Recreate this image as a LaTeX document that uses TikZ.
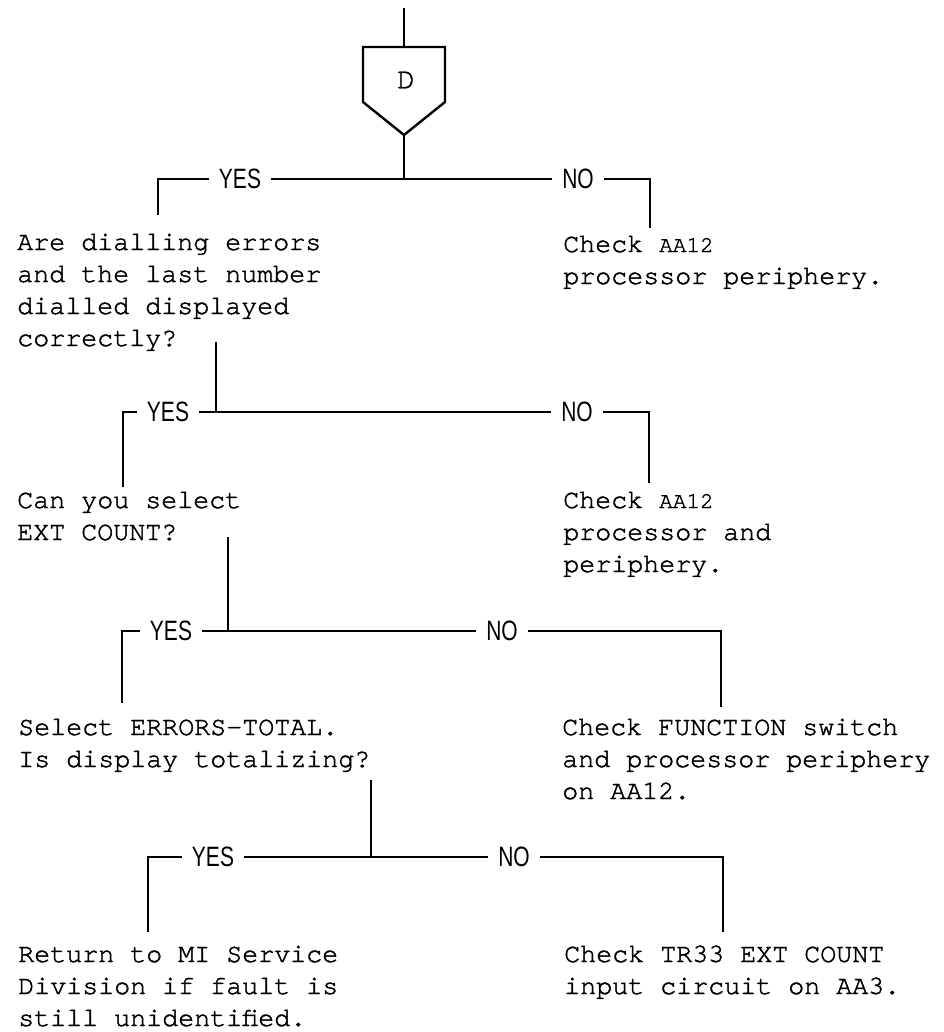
\documentclass[tikz,border=0pt]{standalone}
\usepackage{fontspec}
\newfontfamily\twfont{texgyrecursor-regular.otf}[FakeBold=1.6]
\newfontfamily\ynfont{Liberation Sans}
\newcommand\yn[1]{\scalebox{0.75}[1]{#1}}
\newcommand\sm[1]{{\fontsize{17}{24}\selectfont #1}}
\newcommand\blk[1]{\begin{tabular}[t]{@{}l@{}}#1\end{tabular}}
\tikzset{
  ln/.style={line width=1.8pt},
  lbl/.style={inner xsep=7.5pt, inner ysep=0pt, font=\ynfont\fontsize{21}{24}\selectfont},
  txt/.style={anchor=base west, inner sep=0pt, font=\twfont\fontsize{20}{24}\selectfont},
}
\begin{document}
\begin{tikzpicture}[x=0.75pt,y=-0.75pt]
\useasboundingbox (0,0) rectangle (943,1032);

% entry and D connector
\coordinate (in) at (404,8);
\coordinate (ptop) at (404,47);
\coordinate (pbot) at (404,135);
\draw[ln] (in) -- (ptop);
\draw[ln] (363,47) -- (445,47) -- (445,102) -- (pbot) -- (363,102) -- cycle;
\node[inner sep=0pt, font=\twfont\fontsize{22}{24}\selectfont] (D) at (406,80) {D};

% branch 1
\coordinate (j1) at (404,179);
\draw[ln] (pbot) -- (j1);
\node[lbl] (y1) at (240,179) {\yn{YES}};
\node[lbl] (n1) at (578,179) {\yn{NO}};
\coordinate (a1) at (158,215);
\coordinate (b1) at (650,228);
\draw[ln] (a1) |- (y1.west);
\draw[ln] (y1.east) -- (n1.west);
\draw[ln] (n1.east) -| (b1);
\node[txt] (q1) at (17,250) {\blk{Are dialling errors\\and the last number\\dialled displayed\\correctly?}};
\node[txt] (r1) at (563,252) {\blk{Check \sm{AA12}\\processor periphery.}};

% branch 2
\coordinate (s2) at (216,342);
\coordinate (j2) at (216,412);
\draw[ln] (s2) -- (j2);
\node[lbl] (y2) at (168,412) {\yn{YES}};
\node[lbl] (n2) at (577,412) {\yn{NO}};
\coordinate (a2) at (123,487);
\coordinate (b2) at (649,483);
\draw[ln] (a2) |- (y2.west);
\draw[ln] (y2.east) -- (n2.west);
\draw[ln] (n2.east) -| (b2);
\node[txt] (q2) at (17,508) {\blk{Can you select\\EXT COUNT?}};
\node[txt] (r2) at (563,508) {\blk{Check \sm{AA12}\\processor and\\periphery.}};

% branch 3
\coordinate (s3) at (228,537);
\coordinate (j3) at (228,631);
\draw[ln] (s3) -- (j3);
\node[lbl] (y3) at (171,631) {\yn{YES}};
\node[lbl] (n3) at (502,631) {\yn{NO}};
\coordinate (a3) at (122,703);
\coordinate (b3) at (721,707);
\draw[ln] (a3) |- (y3.west);
\draw[ln] (y3.east) -- (n3.west);
\draw[ln] (n3.east) -| (b3);
\node[txt] (q3) at (18,735) {\blk{Select ERRORS-TOTAL.\\Is display totalizing?}};
\node[txt] (r3) at (562,735) {\blk{Check FUNCTION switch\\and processor periphery\\on AA12.}};

% branch 4
\coordinate (s4) at (371,780);
\coordinate (j4) at (371,857);
\draw[ln] (s4) -- (j4);
\node[lbl] (y4) at (213,857) {\yn{YES}};
\node[lbl] (n4) at (514,857) {\yn{NO}};
\coordinate (a4) at (148,932);
\coordinate (b4) at (723,932);
\draw[ln] (a4) |- (y4.west);
\draw[ln] (y4.east) -- (n4.west);
\draw[ln] (n4.east) -| (b4);
\node[txt] (q4) at (18,962) {\blk{Return to MI Service\\Division if fault is\\still unidentified.}};
\node[txt] (r4) at (564,962) {\blk{Check TR33 EXT COUNT\\input circuit on AA3.}};
\end{tikzpicture}
\end{document}
